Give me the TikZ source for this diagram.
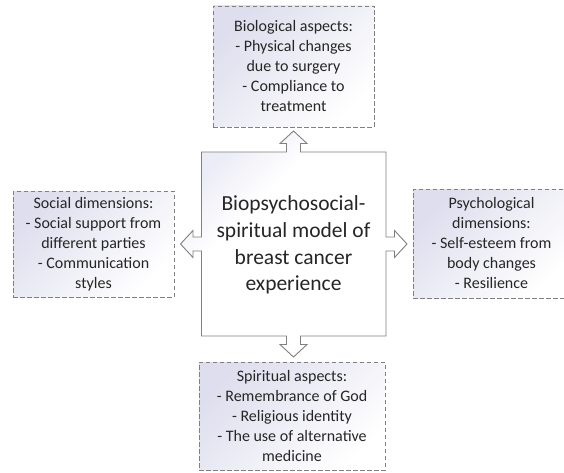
\documentclass[tikz,border=0pt]{standalone}
\usepackage{fontspec}
\setmainfont{Carlito}
\definecolor{lav}{RGB}{222,222,238}
\definecolor{lavcore}{RGB}{236,236,246}
\definecolor{edgegray}{RGB}{128,128,128}
\pgfdeclareverticalshading{coreshade}{100bp}{color(0bp)=(white); color(50bp)=(white); color(62bp)=(white); color(75bp)=(lavcore); color(100bp)=(lavcore)}
\tikzset{
  sidebox/.style={draw=edgegray, dash pattern=on 4.5pt off 2.5pt, line width=0.9pt,
    top color=lav, middle color=lav!35, bottom color=white, shading angle=45,
    align=center, inner sep=0pt, text=black!85,
    font=\fontsize{16}{20}\selectfont},
  coreshape/.style={draw=edgegray, line width=0.9pt, shade, shading=coreshade, shading angle=45},
  coretext/.style={align=center, text=black!85, font=\fontsize{21.5}{26.7}\selectfont}
}
\begin{document}
\begin{tikzpicture}[x=1pt,y=-1pt]
\useasboundingbox (0,0) rectangle (564,473);
\fill[white] (0,0) rectangle (564,473);
% side boxes
\node[sidebox, minimum width=161pt, minimum height=121pt] (bio) at (293.5,66.5)
  {Biological aspects:\\- Physical changes\\due to surgery\\- Compliance to\\treatment};
\node[sidebox, minimum width=161pt, minimum height=106pt] (soc) at (93.5,244)
  {Social dimensions:\\- Social support from\\different parties\\- Communication\\styles};
\node[sidebox, minimum width=157pt, minimum height=109pt] (psy) at (491.5,243.5)
  {Psychological\\dimensions:\\- Self-esteem from\\body changes\\- Resilience};
\node[sidebox, minimum width=186pt, minimum height=108pt] (spi) at (292,416)
  {Spiritual aspects:\\- Remembrance of God\\- Religious identity\\- The use of alternative\\medicine};
% central quad-arrow shape
\coordinate (c) at (293.5,244);
\begin{scope}[shift={(c)}]
\path[coreshape]
 (-92,-92) -- (-7,-92) -- (-7,-100.5) -- (-13.5,-100.5) -- (0,-113) -- (13.5,-100.5) -- (7,-100.5) -- (7,-92)
 -- (92.5,-92) -- (92.5,-7) -- (101,-7) -- (101,-13.5) -- (113.5,0) -- (101,13.5) -- (101,7) -- (92.5,7)
 -- (92.5,92) -- (7,92) -- (7,100.5) -- (13.5,100.5) -- (0,113) -- (-13.5,100.5) -- (-7,100.5) -- (-7,92)
 -- (-92,92) -- (-92,7) -- (-100.5,7) -- (-100.5,13.5) -- (-113,0) -- (-100.5,-13.5) -- (-100.5,-7) -- (-92,-7)
 -- cycle;
\end{scope}
\node[coretext] (core) at (293.5,245)
  {Biopsychosocial-\\spiritual model of\\breast cancer\\experience};
\end{tikzpicture}
\end{document}
